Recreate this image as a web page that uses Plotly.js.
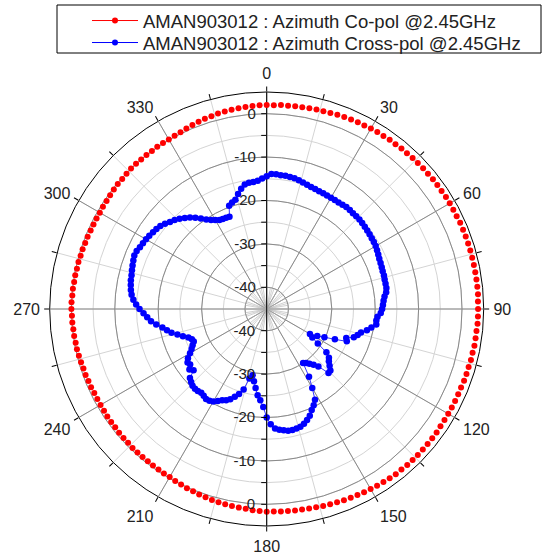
<!DOCTYPE html>
<html><head><meta charset="utf-8">
<script src="https://cdn.plot.ly/plotly-3.0.1.min.js"></script>
<style>html,body{margin:0;padding:0;background:#fff}#chart{width:542px;height:554px}</style>
</head><body><div id="chart"></div>
<script>
const angles = [0,2,4,6,8,10,12,14,16,18,20,22,24,26,28,30,32,34,36,38,40,42,44,46,48,50,52,54,56,58,60,62,64,66,68,70,72,74,76,78,80,82,84,86,88,90,92,94,96,98,100,102,104,106,108,110,112,114,116,118,120,122,124,126,128,130,132,134,136,138,140,142,144,146,148,150,152,154,156,158,160,162,164,166,168,170,172,174,176,178,180,182,184,186,188,190,192,194,196,198,200,202,204,206,208,210,212,214,216,218,220,222,224,226,228,230,232,234,236,238,240,242,244,246,248,250,252,254,256,258,260,262,264,266,268,270,272,274,276,278,280,282,284,286,288,290,292,294,296,298,300,302,304,306,308,310,312,314,316,318,320,322,324,326,328,330,332,334,336,338,340,342,344,346,348,350,352,354,356,358];

const coPol = [2.0,2.0,2.1,2.1,2.2,2.2,2.3,2.4,2.4,2.5,2.6,2.7,2.8,2.9,2.9,3.0,3.1,3.1,3.2,3.2,3.3,3.3,3.4,3.4,3.5,3.5,3.6,3.6,3.6,3.7,3.7,3.7,3.7,3.8,3.8,3.8,3.8,3.8,3.8,3.8,3.8,3.8,3.8,3.8,3.7,3.7,3.7,3.7,3.6,3.6,3.6,3.5,3.5,3.4,3.4,3.4,3.3,3.3,3.3,3.3,3.3,3.3,3.3,3.4,3.4,3.4,3.4,3.4,3.4,3.4,3.3,3.3,3.2,3.1,3.0,2.9,2.8,2.7,2.6,2.5,2.4,2.3,2.2,2.1,2.0,1.9,1.9,1.8,1.8,1.7,1.7,1.6,1.5,1.3,1.2,1.1,1.0,0.9,0.8,0.6,0.5,0.3,0.2,0.0,-0.1,-0.3,-0.3,-0.4,-0.4,-0.5,-0.5,-0.5,-0.5,-0.6,-0.6,-0.6,-0.7,-0.7,-0.7,-0.8,-0.8,-0.8,-0.8,-0.7,-0.7,-0.6,-0.6,-0.5,-0.4,-0.3,-0.3,-0.2,-0.2,-0.1,-0.1,0.0,0.0,-0.1,-0.1,-0.2,-0.2,-0.3,-0.3,-0.4,-0.4,-0.5,-0.5,-0.6,-0.6,-0.6,-0.6,-0.5,-0.5,-0.4,-0.3,-0.2,-0.2,-0.1,0.0,0.0,0.0,0.0,0.0,0.1,0.1,0.1,0.2,0.3,0.5,0.7,0.9,1.1,1.2,1.4,1.5,1.6,1.7,1.8,1.9,2.0];

const crossPol = [-14.4,-13.9,-13.9,-14.0,-14.0,-14.1,-14.2,-14.4,-14.7,-14.9,-15.1,-15.2,-15.3,-15.3,-15.4,-15.4,-15.4,-15.4,-15.3,-15.2,-15.2,-15.3,-15.3,-15.3,-15.4,-15.5,-15.6,-15.7,-15.8,-15.9,-16.0,-16.2,-16.4,-16.6,-16.7,-16.8,-16.9,-16.9,-17.0,-17.0,-17.0,-17.2,-17.7,-18.0,-18.2,-18.4,-18.7,-19.4,-19.6,-19.5,-20.5,-21.4,-22.6,-23.2,-23.9,-25.5,-25.1,-27.8,-30.2,-31.8,-33.5,-32.6,-30.8,-28.0,-26.8,-26.3,-25.5,-24.6,-24.5,-27.2,-28.2,-29.0,-29.6,-30.0,-26.6,-24.0,-21.3,-20.3,-19.5,-18.5,-17.8,-17.2,-16.8,-16.6,-16.5,-16.5,-16.8,-17.0,-17.4,-18.4,-20.0,-22.4,-23.9,-25.0,-26.6,-28.1,-29.4,-28.5,-25.7,-24.4,-23.5,-22.6,-22.0,-21.6,-21.0,-20.4,-20.1,-20.0,-20.3,-20.5,-20.3,-20.3,-20.4,-20.8,-21.2,-23.0,-22.4,-23.2,-23.0,-23.6,-24.6,-25.4,-26.0,-26.6,-26.4,-25.8,-24.7,-23.6,-22.4,-21.5,-20.6,-19.3,-18.2,-17.4,-16.6,-15.7,-14.9,-14.2,-13.7,-13.4,-13.2,-13.0,-12.9,-12.7,-12.5,-12.3,-12.1,-12.2,-12.5,-12.7,-12.9,-13.1,-13.4,-13.6,-13.9,-14.4,-15.0,-15.5,-16.1,-16.8,-17.5,-18.3,-19.2,-20.1,-20.8,-21.3,-21.8,-21.9,-22.0,-22.1,-19.7,-19.2,-18.8,-17.7,-16.7,-15.9,-15.6,-15.6,-15.4,-14.9];

const seriesNames = ['AMAN903012 : Azimuth Co-pol @2.45GHz', 'AMAN903012 : Azimuth Cross-pol @2.45GHz'];
const seriesColors = ['#ff0000', '#0000ff'];
const radialTickVals = [-40,-35,-30,-25,-20,-15,-10,-5,0];
const radialTickText = ['-40','','-30','','-20','','-10','','0'];
const radialMajorVals = [-40,-30,-20,-10,0];
const angularTickVals = [0,30,60,90,120,150,180,210,240,270,300,330];
const angularTickText = ['0','30','60','90','120','150','180','210','240','270','300','330'];
const radialRange = [-45, 5];

const W = 542, H = 554, cx = 266.7, cy = 309, R = 217, Rin = 22;
const dom = (rad) => ({x: [(cx - rad) / W, (cx + rad) / W], y: [(H - cy - rad) / H, (H - cy + rad) / H]});
const FONT = 'Liberation Sans, Arial, sans-serif';
const TXT = '#222222';
const LIGHT = '#d4d4d4', DARK = '#8a8a8a';

function basePolar(extra) {
  return Object.assign({
    domain: dom(R),
    bgcolor: 'rgba(0,0,0,0)',
    angularaxis: {rotation: 90, direction: 'clockwise', showgrid: false, showline: false, ticks: '', showticklabels: false},
    radialaxis: {range: radialRange, showgrid: false, showline: false, ticks: '', showticklabels: false}
  }, extra);
}

const legendCommon = {xanchor: 'left', yanchor: 'middle', bgcolor: 'rgba(0,0,0,0)', borderwidth: 0,
                      font: {family: FONT, size: 18.5, color: TXT}, itemwidth: 46};

const layout = {
  width: W, height: H,
  margin: {l: 0, r: 0, t: 0, b: 0},
  paper_bgcolor: '#ffffff',
  font: {family: FONT, color: TXT, size: 15},
  showlegend: true,
  legend: Object.assign({x: 87 / W, y: (H - 21) / H}, legendCommon),
  legend2: Object.assign({x: 87 / W, y: (H - 43) / H}, legendCommon),
  shapes: [{type: 'rect', xref: 'paper', yref: 'paper', x0: 57 / W, x1: 541 / W, y0: (H - 53) / H, y1: (H - 5) / H,
            line: {color: '#000', width: 1}, fillcolor: 'rgba(0,0,0,0)'}],
  polar: basePolar({
    bgcolor: '#ffffff',
    angularaxis: {rotation: 90, direction: 'clockwise', dtick: 15, tick0: 0, showgrid: true, gridcolor: LIGHT, gridwidth: 1,
                  showline: true, linecolor: '#000', linewidth: 1, ticks: 'outside', ticklen: 5, tickcolor: '#000', showticklabels: false},
    radialaxis: {range: radialRange, tickmode: 'array', tickvals: radialTickVals, showgrid: true, gridcolor: LIGHT,
                 showline: false, ticks: '', showticklabels: false}
  }),
  polar2: basePolar({
    angularaxis: {rotation: 90, direction: 'clockwise', tickmode: 'array', tickvals: angularTickVals, ticktext: angularTickText,
                  showgrid: true, gridcolor: DARK, gridwidth: 1, showline: false, ticks: 'outside', ticklen: 6, tickcolor: 'rgba(0,0,0,0)',
                  showticklabels: true, tickfont: {family: FONT, size: 16, color: TXT}},
    radialaxis: {range: radialRange, tickmode: 'array', tickvals: radialMajorVals, showgrid: true, gridcolor: DARK,
                 showline: false, ticks: '', showticklabels: false}
  }),
  polar3: {
    domain: dom(Rin), bgcolor: 'rgba(0,0,0,0)',
    angularaxis: {rotation: 90, direction: 'clockwise', dtick: 10, showgrid: true, gridcolor: '#b0b0b0', gridwidth: 0.6,
                  showline: false, ticks: '', showticklabels: false},
    radialaxis: {range: [0, 1], showgrid: false, showline: false, ticks: '', showticklabels: false}
  },
  polar4: basePolar({
    radialaxis: {range: radialRange, angle: 90, side: 'counterclockwise', tickmode: 'array', tickvals: radialTickVals, ticktext: radialTickText,
                 showgrid: false, showline: true, linecolor: '#000', linewidth: 1, ticks: 'outside', ticklen: 5, tickcolor: '#000',
                 showticklabels: true, tickangle: 90, tickfont: {family: FONT, size: 15, color: TXT}}
  }),
  polar5: basePolar({
    radialaxis: {range: radialRange, angle: 270, side: 'clockwise', tickmode: 'array', tickvals: radialTickVals, ticktext: radialTickText,
                 showgrid: false, showline: true, linecolor: '#000', linewidth: 1, ticks: 'outside', ticklen: 5, tickcolor: '#000',
                 showticklabels: true, tickangle: -90, tickfont: {family: FONT, size: 15, color: TXT}}
  })
};

const data = [
  {type: 'scatterpolar', subplot: 'polar', r: [null], theta: [null], mode: 'markers', showlegend: false, hoverinfo: 'skip'},
  {type: 'scatterpolar', subplot: 'polar2', r: [null], theta: [null], mode: 'markers', showlegend: false, hoverinfo: 'skip'},
  {type: 'scatterpolar', subplot: 'polar3', r: [null], theta: [null], mode: 'markers', showlegend: false, hoverinfo: 'skip'},
  {type: 'scatterpolar', subplot: 'polar4', r: [null], theta: [null], mode: 'markers', showlegend: false, hoverinfo: 'skip'},
  {type: 'scatterpolar', subplot: 'polar5', r: coPol, theta: angles, mode: 'markers', name: seriesNames[0], showlegend: false,
   marker: {color: seriesColors[0], size: 6}},
  {type: 'scatterpolar', subplot: 'polar5', r: crossPol, theta: angles, mode: 'lines+markers', name: seriesNames[1], showlegend: false,
   marker: {color: seriesColors[1], size: 6.5}, line: {color: seriesColors[1], width: 0.8}},
  {type: 'scatterpolar', subplot: 'polar5', r: [null], theta: [null], mode: 'lines+markers', name: seriesNames[0], legend: 'legend',
   marker: {color: seriesColors[0], size: 6}, line: {color: seriesColors[0], width: 1}},
  {type: 'scatterpolar', subplot: 'polar5', r: [null], theta: [null], mode: 'lines+markers', name: seriesNames[1], legend: 'legend2',
   marker: {color: seriesColors[1], size: 6}, line: {color: seriesColors[1], width: 1}}
];

Plotly.newPlot('chart', data, layout, {staticPlot: true, displayModeBar: false});
</script></body></html>
